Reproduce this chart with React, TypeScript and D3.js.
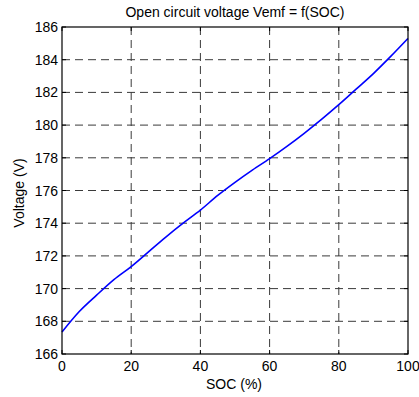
import React from "react";
import * as d3 from "d3";

// Open circuit voltage vs state of charge
const soc = [0, 5, 10, 15, 20, 25, 30, 35, 40, 45, 50, 55, 60, 65, 70, 75, 80, 85, 90, 95, 100];
const vemf = [167.35, 168.6, 169.6, 170.55, 171.35, 172.25, 173.15, 174.0, 174.8, 175.7, 176.5, 177.25, 177.95, 178.7, 179.5, 180.35, 181.25, 182.2, 183.15, 184.2, 185.3];
const xTicks = [0, 20, 40, 60, 80, 100];
const yTicks = [166, 168, 170, 172, 174, 176, 178, 180, 182, 184, 186];

const W = 419;
const H = 397;
const left = 62;
const right = 408;
const top = 27;
const bottom = 354;
const font = "Liberation Sans, Arial, sans-serif";
const fs = 14;

export default function App() {
  const x = d3.scaleLinear().domain([0, 100]).range([left, right]);
  const y = d3.scaleLinear().domain([166, 186]).range([bottom, top]);
  const line = d3
    .line<number>()
    .x((_, i) => x(soc[i]))
    .y((d) => y(d))
    .curve(d3.curveMonotoneX);
  const tl = 4;
  return (
    <svg
      width={W}
      height={H}
      style={{ position: "absolute", left: 0, top: 0, background: "#fff" }}
    >
      <rect x={0} y={0} width={W} height={H} fill="#fff" />
      {/* grid */}
      {xTicks.slice(1, -1).map((t) => (
        <line
          key={"gx" + t}
          x1={x(t)}
          x2={x(t)}
          y1={top}
          y2={bottom}
          stroke="#3a3a3a"
          strokeWidth={1}
          strokeDasharray="8,5"
        />
      ))}
      {yTicks.slice(1, -1).map((t) => (
        <line
          key={"gy" + t}
          x1={left}
          x2={right}
          y1={y(t)}
          y2={y(t)}
          stroke="#3a3a3a"
          strokeWidth={1}
          strokeDasharray="8,5"
        />
      ))}
      {/* tick marks on all four sides */}
      {xTicks.map((t) => (
        <g key={"tx" + t} stroke="#000" strokeWidth={1}>
          <line x1={x(t)} x2={x(t)} y1={bottom} y2={bottom - tl} />
          <line x1={x(t)} x2={x(t)} y1={top} y2={top + tl} />
        </g>
      ))}
      {yTicks.map((t) => (
        <g key={"ty" + t} stroke="#000" strokeWidth={1}>
          <line x1={left} x2={left + tl} y1={y(t)} y2={y(t)} />
          <line x1={right} x2={right - tl} y1={y(t)} y2={y(t)} />
        </g>
      ))}
      {/* curve */}
      <path d={line(vemf) || ""} fill="none" stroke="#0000ff" strokeWidth={1.6} />
      {/* frame */}
      <rect
        x={left}
        y={top}
        width={right - left}
        height={bottom - top}
        fill="none"
        stroke="#000"
        strokeWidth={1.2}
      />
      {/* tick labels */}
      {xTicks.map((t) => (
        <text
          key={"lx" + t}
          x={x(t)}
          y={371}
          textAnchor="middle"
          fontFamily={font}
          fontSize={fs}
        >
          {t}
        </text>
      ))}
      {yTicks.map((t) => (
        <text
          key={"ly" + t}
          x={58}
          y={y(t)}
          dy="0.36em"
          textAnchor="end"
          fontFamily={font}
          fontSize={fs}
        >
          {t}
        </text>
      ))}
      {/* labels */}
      <text x={235} y={17} textAnchor="middle" fontFamily={font} fontSize={fs}>
        Open circuit voltage Vemf = f(SOC)
      </text>
      <text x={234} y={389} textAnchor="middle" fontFamily={font} fontSize={fs}>
        SOC (%)
      </text>
      <text
        transform={`translate(24,193) rotate(-90)`}
        textAnchor="middle"
        fontFamily={font}
        fontSize={fs}
      >
        Voltage (V)
      </text>
    </svg>
  );
}
